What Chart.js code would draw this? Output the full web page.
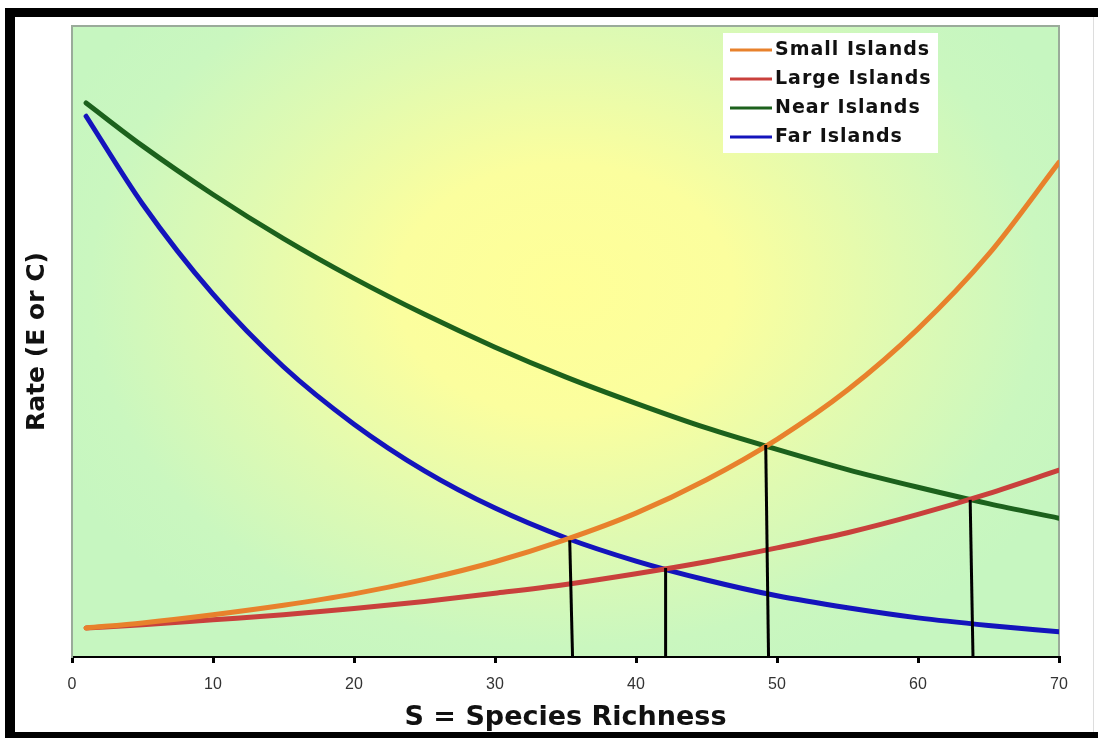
<!DOCTYPE html>
<html>
<head>
<meta charset="utf-8">
<script src="https://cdn.jsdelivr.net/npm/chart.js@4"></script>
<style>
  html, body { margin: 0; padding: 0; background: #fff; }
  #wrap { width: 1098px; height: 738px; }
</style>
</head>
<body>
<div id="wrap"><canvas id="islandChart" width="1098" height="738"></canvas></div>
<script>
// species richness values where the curves were read
const richness = [1, 5, 10, 15, 20, 25, 30, 35, 40, 45, 50, 55, 60, 65, 70];

// rates (arbitrary 0-100 scale)
const smallIslands = [4.6, 5.4, 6.7, 8.2, 10.0, 12.3, 15.1, 18.6, 22.8, 28.1, 34.5, 42.3, 52.0, 63.8, 78.4];
const largeIslands = [4.6, 5.1, 5.9, 6.7, 7.7, 8.8, 10.1, 11.5, 13.2, 15.1, 17.3, 19.7, 22.6, 25.9, 29.6];
const nearIslands  = [87.8, 81.0, 73.3, 66.3, 60.0, 54.3, 49.1, 44.4, 40.2, 36.3, 32.9, 29.7, 26.9, 24.3, 22.0];
const farIslands   = [85.7, 71.8, 57.5, 46.0, 36.9, 29.5, 23.6, 18.9, 15.2, 12.2, 9.7, 7.8, 6.2, 5.0, 4.0];

// equilibrium drop lines: [top x, top y, bottom x]
const dropLines = [
    [35.3, 18.5, 35.5],
    [42.1, 14.1, 42.1],
    [49.2, 33.6, 49.4],
    [63.7, 24.9, 63.9]
];

const xTicks = [0, 10, 20, 30, 40, 50, 60, 70];

const seriesNames = ["Small Islands", "Large Islands", "Near Islands", "Far Islands"];
const seriesColors = ["#e8812c", "#c9403c", "#1c611c", "#1414bc"];

function toPoints(values) {
    return richness.map((s, i) => ({ x: s, y: values[i] }));
}

var datasets = [];

dropLines.forEach(function (d) {
    datasets.push({
        label: "",
        data: [{ x: d[0], y: d[1] }, { x: d[2], y: 0 }],
        borderColor: "#000",
        borderWidth: 3,
        pointRadius: 0,
        showLine: true
    });
});

[smallIslands, largeIslands, nearIslands, farIslands].forEach(function (vals, i) {
    datasets.push({
        label: seriesNames[i],
        data: toPoints(vals),
        borderColor: seriesColors[i],
        borderWidth: 5,
        pointRadius: 0,
        showLine: true,
        cubicInterpolationMode: "monotone",
        borderCapStyle: "round"
    });
});

// page background, black frame and the yellow-green plot fill
const backdrop = {
    id: "backdrop",
    beforeDraw(chart) {
        const ctx = chart.ctx;
        const a = chart.chartArea;
        ctx.save();
        ctx.fillStyle = "#fff";
        ctx.fillRect(0, 0, chart.width, chart.height);

        ctx.fillStyle = "#000";
        ctx.fillRect(5, 8, 10, 730);
        ctx.fillRect(5, 8, 1093, 9);
        ctx.fillRect(5, 732, 1093, 6);
        ctx.fillStyle = "#ddd";
        ctx.fillRect(1093, 17, 1, 715);

        const cx = 565, cy = 290;
        ctx.save();
        ctx.beginPath();
        ctx.rect(a.left, a.top, a.right - a.left, a.bottom - a.top);
        ctx.clip();
        ctx.translate(cx, cy);
        ctx.scale(1, 0.75);
        const g = ctx.createRadialGradient(0, 0, 0, 0, 0, 560);
        g.addColorStop(0, "#ffff98");
        g.addColorStop(0.3, "#fbfe9e");
        g.addColorStop(0.6, "#dffab2");
        g.addColorStop(0.85, "#caf7bf");
        g.addColorStop(1, "#c6f6c0");
        ctx.fillStyle = g;
        ctx.fillRect(-cx, -cy / 0.75 - 50, chart.width, chart.height / 0.75 + 100);
        ctx.restore();

        ctx.strokeStyle = "#9aab9a";
        ctx.lineWidth = 2;
        ctx.beginPath();
        ctx.moveTo(a.left, a.bottom);
        ctx.lineTo(a.left, a.top);
        ctx.lineTo(a.right, a.top);
        ctx.lineTo(a.right, a.bottom);
        ctx.stroke();
        ctx.restore();
    }
};

// legend box in the upper right
const islandLegend = {
    id: "islandLegend",
    afterDraw(chart) {
        const ctx = chart.ctx;
        ctx.save();
        ctx.fillStyle = "#fff";
        ctx.fillRect(723, 33, 215, 120);
        ctx.font = "bold 19px 'DejaVu Sans'";
        ctx.letterSpacing = "1px";
        ctx.textBaseline = "middle";
        ctx.textAlign = "left";
        seriesNames.forEach(function (name, i) {
            const y = 50 + i * 29;
            ctx.strokeStyle = seriesColors[i];
            ctx.lineWidth = 3;
            ctx.beginPath();
            ctx.moveTo(730, y);
            ctx.lineTo(772, y);
            ctx.stroke();
            ctx.fillStyle = "#111";
            ctx.fillText(name, 775, y);
        });
        ctx.restore();
    }
};

const ctx = document.getElementById("islandChart").getContext("2d");
new Chart(ctx, {
    type: "scatter",
    data: { datasets: datasets },
    options: {
        responsive: false,
        animation: false,
        layout: { padding: { left: 0, top: 26, right: 39, bottom: 0 } },
        plugins: {
            legend: { display: false },
            tooltip: { enabled: false }
        },
        scales: {
            x: {
                type: "linear",
                min: 0,
                max: 70,
                afterBuildTicks: function (scale) {
                    scale.ticks = xTicks.map(v => ({ value: v }));
                },
                afterFit: function (scale) { scale.height = 81; },
                ticks: {
                    color: "#333",
                    padding: 12,
                    font: { family: "'Liberation Sans', Arial", size: 16 }
                },
                grid: {
                    drawOnChartArea: false,
                    drawTicks: true,
                    tickLength: 6,
                    color: "#000",
                    lineWidth: 3
                },
                border: { color: "#000", width: 2 },
                title: {
                    display: true,
                    text: "S = Species Richness",
                    color: "#111",
                    font: { family: "'DejaVu Sans'", size: 27, weight: "bold" },
                    padding: { top: 0, bottom: 4 }
                }
            },
            y: {
                type: "linear",
                min: 0,
                max: 100,
                afterFit: function (scale) { scale.width = 72; },
                ticks: { display: false },
                grid: { drawOnChartArea: false, drawTicks: false },
                border: { color: "#9aab9a", width: 2 },
                title: {
                    display: true,
                    text: "Rate (E or C)",
                    color: "#111",
                    font: { family: "'DejaVu Sans'", size: 25, weight: "bold" },
                    padding: { top: 22, bottom: 0 }
                }
            }
        }
    },
    plugins: [backdrop, islandLegend]
});
</script>
</body>
</html>
